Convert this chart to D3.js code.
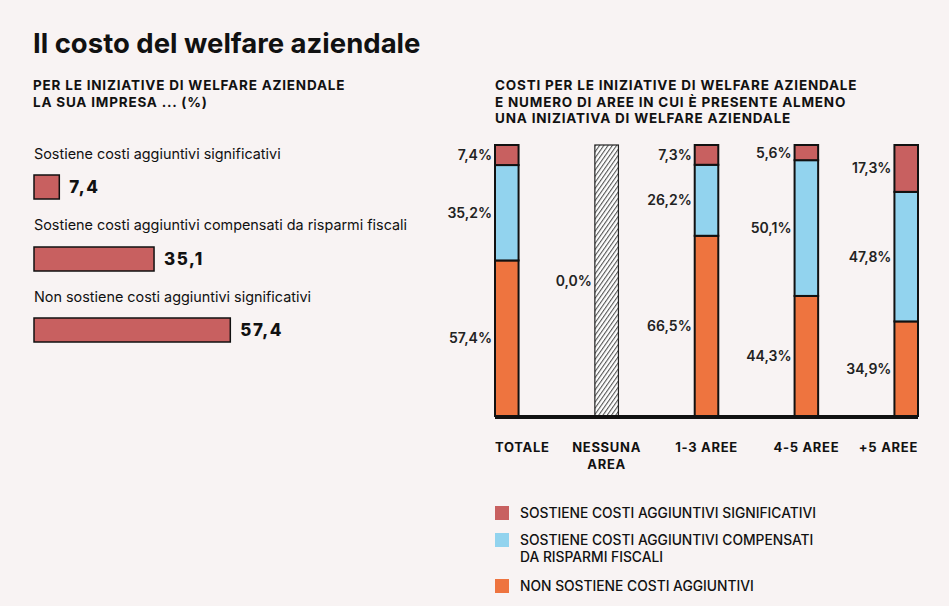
<!DOCTYPE html>
<html><head><meta charset="utf-8">
<script src="https://cdn.jsdelivr.net/npm/d3@7"></script>
<style>
html,body{margin:0;padding:0;background:#f8f3f3;}
svg{display:block;}
</style></head>
<body>
<svg id="c" width="949" height="606"></svg>
<script>
// ---- data ----
const leftLabels = ["Sostiene costi aggiuntivi significativi",
  "Sostiene costi aggiuntivi compensati da risparmi fiscali",
  "Non sostiene costi aggiuntivi significativi"];
const leftValues = [7.4, 35.1, 57.4];

const categories = ["TOTALE", "NESSUNA\nAREA", "1-3 AREE", "4-5 AREE", "+5 AREE"];
const sigValues  = [7.4, 0.0, 7.3, 5.6, 17.3];
const compValues = [35.2, 0.0, 26.2, 50.1, 47.8];
const nonValues  = [57.4, 0.0, 66.5, 44.3, 34.9];
const seriesNames = ["SOSTIENE COSTI AGGIUNTIVI SIGNIFICATIVI",
  "SOSTIENE COSTI AGGIUNTIVI COMPENSATI\nDA RISPARMI FISCALI",
  "NON SOSTIENE COSTI AGGIUNTIVI"];
const seriesColors = ["#c86060", "#92d3ee", "#ee743f"];

// ---- setup ----
const svg = d3.select("#c");
const FONT = "Inter, 'Noto Sans', sans-serif";
const locale = d3.formatLocale({decimal: ",", thousands: ".", grouping: [3], currency: ["", "€"]});
const fmt = locale.format(".1f");

svg.append("text").attr("x", 33).attr("y", 53)
  .attr("font-family", FONT).attr("font-weight", 700).attr("font-size", 27.5)
  .attr("fill", "#111").text("Il costo del welfare aziendale");

function multiline(g, x, y, lines, lh) {
  lines.forEach((l, i) => g.append("tspan").attr("x", x).attr("y", y + i * lh).text(l));
}
const sub1 = svg.append("text").attr("font-family", FONT).attr("font-weight", 700)
  .attr("font-size", 13.5).attr("letter-spacing", 0.8).attr("fill", "#111");
multiline(sub1, 33, 90, ["PER LE INIZIATIVE DI WELFARE AZIENDALE", "LA SUA IMPRESA ... (%)"], 16.5);
const sub2 = svg.append("text").attr("font-family", FONT).attr("font-weight", 700)
  .attr("font-size", 13.5).attr("letter-spacing", 0.8).attr("fill", "#111");
multiline(sub2, 495, 90, ["COSTI PER LE INIZIATIVE DI WELFARE AZIENDALE",
  "E NUMERO DI AREE IN CUI È PRESENTE ALMENO", "UNA INIZIATIVA DI WELFARE AZIENDALE"], 16.5);

// ---- left chart ----
const xL = d3.scaleLinear().domain([0, 100]).range([34, 376]);
const rowLabelY = [159, 230, 302];
const rowBarY = [175, 247, 318];
const barH = 24;
const left = svg.append("g");
leftValues.forEach((v, i) => {
  left.append("text").attr("x", 34).attr("y", rowLabelY[i])
    .attr("font-family", FONT).attr("font-size", 14.4).attr("fill", "#111").text(leftLabels[i]);
  left.append("rect").attr("x", xL(0)).attr("y", rowBarY[i])
    .attr("width", xL(v) - xL(0)).attr("height", barH)
    .attr("fill", seriesColors[0]).attr("stroke", "#111").attr("stroke-width", 1.5);
  left.append("text").attr("x", xL(v) + 10).attr("y", rowBarY[i] + barH / 2 + 6)
    .attr("font-family", FONT).attr("font-weight", 800).attr("letter-spacing", 1.5)
    .attr("font-size", 17).attr("fill", "#111").text(fmt(v));
});

// ---- right chart ----
const x = d3.scaleBand().domain(categories).range([495, 918]).paddingInner(0.764).paddingOuter(0);
const y = d3.scaleLinear().domain([0, 100]).range([416, 145]);

const defs = svg.append("defs");
const pat = defs.append("pattern").attr("id", "hatch").attr("patternUnits", "userSpaceOnUse")
  .attr("width", 3.5).attr("height", 3.5).attr("patternTransform", "rotate(-55)");
pat.append("rect").attr("width", 3.5).attr("height", 3.5).attr("fill", "#fff");
pat.append("line").attr("x1", 0).attr("y1", 0).attr("x2", 3.5).attr("y2", 0)
  .attr("stroke", "#555").attr("stroke-width", 2.2);

const rows = categories.map((c, i) => ({cat: c, vals: [sigValues[i], compValues[i], nonValues[i]]}));
const right = svg.append("g");
const labelFont = {size: 14, weight: 600};
rows.forEach(r => {
  const total = d3.sum(r.vals);
  const bx = x(r.cat), bw = x.bandwidth();
  if (total === 0) {
    right.append("rect").attr("x", bx).attr("y", y(100)).attr("width", bw)
      .attr("height", y(0) - y(100)).attr("fill", "url(#hatch)")
      .attr("stroke", "#222").attr("stroke-width", 1.2);
    right.append("text").attr("x", bx - 3).attr("y", (y(0) + y(100)) / 2 + 5)
      .attr("text-anchor", "end").attr("font-family", FONT).attr("font-weight", labelFont.weight)
      .attr("font-size", labelFont.size).attr("fill", "#222").text(fmt(0) + "%");
    return;
  }
  // stack from bottom: non, comp, sig
  let acc = 0;
  const order = [2, 1, 0];
  order.forEach(k => {
    const v = r.vals[k];
    const y0 = acc, y1 = acc + v;
    acc = y1;
    right.append("rect").attr("x", bx).attr("y", y(y1)).attr("width", bw)
      .attr("height", y(y0) - y(y1)).attr("fill", seriesColors[k])
      .attr("stroke", "#111").attr("stroke-width", 2);
    right.append("text").attr("x", bx - 3).attr("y", (y(y0) + y(y1)) / 2 + 5)
      .attr("text-anchor", "end").attr("font-family", FONT).attr("font-weight", labelFont.weight)
      .attr("font-size", labelFont.size).attr("fill", "#222").text(fmt(v) + "%");
  });
});
// baseline
right.append("line").attr("x1", x.range()[0]).attr("x2", x.range()[1])
  .attr("y1", y(0) + 1).attr("y2", y(0) + 1).attr("stroke", "#111").attr("stroke-width", 4);

// category labels
categories.forEach((c, i) => {
  const n = categories.length;
  const anchor = i === 0 ? "start" : (i === n - 1 ? "end" : "middle");
  const tx = i === 0 ? x(c) : (i === n - 1 ? x(c) + x.bandwidth() : x(c) + x.bandwidth() / 2);
  const t = right.append("text").attr("text-anchor", anchor).attr("font-family", FONT)
    .attr("font-weight", 700).attr("font-size", 13).attr("letter-spacing", 0.7).attr("fill", "#111");
  multiline(t, tx, 452, c.split("\n"), 16.5);
});

// legend
const legY = [506, 533, 579];
seriesNames.forEach((s, i) => {
  svg.append("rect").attr("x", 495).attr("y", legY[i]).attr("width", 14).attr("height", 14)
    .attr("fill", seriesColors[i]);
  const t = svg.append("text").attr("font-family", FONT).attr("font-weight", 500)
    .attr("font-size", 13.8).attr("fill", "#111");
  multiline(t, 520, legY[i] + 12, s.split("\n"), 16.5);
});
</script>
</body></html>
